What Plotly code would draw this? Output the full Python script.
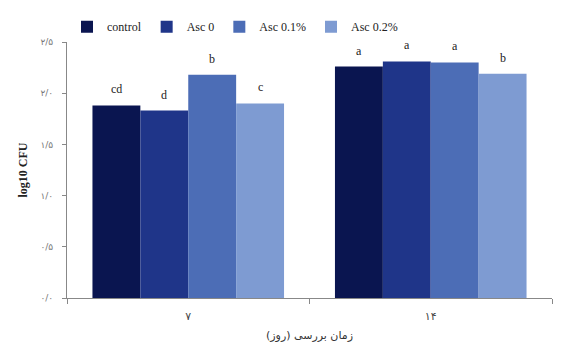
import plotly.graph_objects as go

days = ["۷", "۱۴"]
series_names = ["control", "Asc 0", "Asc 0.1%", "Asc 0.2%"]
control = [1.88, 2.26]
asc0 = [1.83, 2.31]
asc01 = [2.18, 2.30]
asc02 = [1.90, 2.19]
letters_control = ["cd", "a"]
letters_asc0 = ["d", "a"]
letters_asc01 = ["b", "a"]
letters_asc02 = ["c", "b"]
y_tickvals = [0, 0.5, 1.0, 1.5, 2.0, 2.5]
y_ticktext = ["۰/۰", "۰/۵", "۱/۰", "۱/۵", "۲/۰", "۲/۵"]

colors = ["#0a1550", "#1f3589", "#4c6db6", "#7e9bd2"]
values = [control, asc0, asc01, asc02]
letters = [letters_control, letters_asc0, letters_asc01, letters_asc02]

W, H = 578, 352
ML, MR, MT, MB = 67, 26, 36, 49
BARGAP = 0.21

fig = go.Figure()
for name, vals, col in zip(series_names, values, colors):
    fig.add_trace(go.Bar(
        x=days, y=vals, name=name,
        marker=dict(color=col, line=dict(width=0)),
    ))

# letter labels above bars, offset within group by bar width
plot_w = W - ML - MR
bar_px = plot_w / len(days) * (1 - BARGAP) / len(series_names)
n = len(series_names)
for i, (vals, lets) in enumerate(zip(values, letters)):
    for d, v, l in zip(days, vals, lets):
        fig.add_annotation(
            x=d, y=v, text=l, showarrow=False,
            xshift=(i - (n - 1) / 2) * bar_px, yshift=7,
            yanchor="bottom",
            font=dict(family="Liberation Serif", size=12, color="#222"),
        )

fig.update_layout(
    width=W, height=H,
    margin=dict(l=ML, r=MR, t=MT, b=MB),
    paper_bgcolor="white", plot_bgcolor="white",
    barmode="group", bargap=BARGAP, bargroupgap=0,
    font=dict(family="Liberation Serif", color="#222"),
    legend=dict(orientation="h", x=0.0, xanchor="left", y=1.06, yanchor="middle",
                font=dict(family="Liberation Serif", size=12, color="#222"),
                itemwidth=30, bgcolor="rgba(0,0,0,0)"),
    showlegend=True,
)
fig.update_xaxes(
    type="category", tickson="boundaries", ticks="outside", ticklen=5,
    tickcolor="#888", showline=True, linecolor="#888", linewidth=1,
    showgrid=False, ticklabelstandoff=8,
    tickfont=dict(family="DejaVu Sans", size=11, color="#444"),
    title=dict(text="زمان بررسی (روز)", font=dict(family="DejaVu Sans", size=11, color="#333"), standoff=9),
)
fig.update_yaxes(
    range=[0, 2.5], tickvals=y_tickvals, ticktext=y_ticktext,
    ticks="outside", ticklen=4, tickcolor="#888",
    showline=True, linecolor="#888", linewidth=1, showgrid=False, zeroline=False,
    ticklabelstandoff=7,
    tickfont=dict(family="DejaVu Sans", size=9, color="#777"),
    title=dict(text="<b>log10 CFU</b>", font=dict(family="Liberation Serif", size=12, color="#222"), standoff=10),
)

fig.write_html("out.html")
